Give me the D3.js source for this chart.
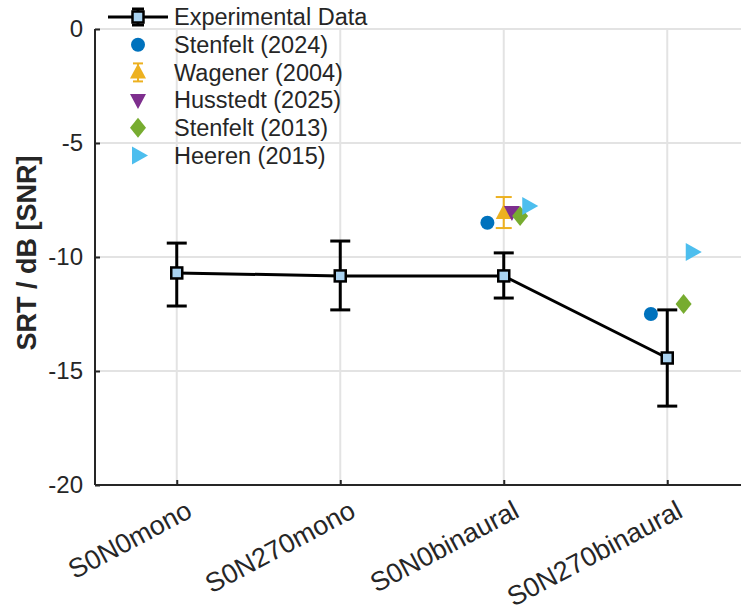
<!DOCTYPE html>
<html>
<head>
<meta charset="utf-8">
<script src="https://cdn.jsdelivr.net/npm/d3@7"></script>
<style>
  body { margin: 0; background: white; }
  text { font-family: "Liberation Sans", Arial, Helvetica, sans-serif; }
</style>
</head>
<body>
<div id="chart"></div>
<script>
// Data
const categories = ["S0N0mono", "S0N270mono", "S0N0binaural", "S0N270binaural"];
const yTicks = [0, -5, -10, -15, -20];

// experimental data: mean and error bar ends
const expMean = [-10.70, -10.83, -10.83, -14.43];
const expLow = [-12.15, -12.32, -11.80, -16.54];
const expHigh = [-9.39, -9.30, -9.82, -12.32];

// literature values
const stenfelt2024 = [{cat: "S0N0binaural", v: -8.50}, {cat: "S0N270binaural", v: -12.50}];
const wagener2004 = [{cat: "S0N0binaural", v: -8.07, lo: -8.73, hi: -7.37}];
const husstedt2025 = [{cat: "S0N0binaural", v: -8.03}];
const stenfelt2013 = [{cat: "S0N0binaural", v: -8.20}, {cat: "S0N270binaural", v: -12.06}];
const heeren2015 = [{cat: "S0N0binaural", v: -7.76}, {cat: "S0N270binaural", v: -9.78}];

const legendLabels = ["Experimental Data", "Stenfelt (2024)", "Wagener (2004)", "Husstedt (2025)", "Stenfelt (2013)", "Heeren (2015)"];

const width = 741, height = 611;
const margin = {top: 29, bottom: 126, left: 95, right: -8};

const svg = d3.select('#chart')
  .append('svg')
  .attr('width', width)
  .attr('height', height)
  .style('background', 'white');

// scales (categories at 1..4, limits 0.5..4.5)
const xScale = d3.scaleLinear()
  .domain([0.5, 4.5])
  .range([margin.left, width - margin.right]);

const yScale = d3.scaleLinear()
  .domain([-20, 0])
  .range([height - margin.bottom, margin.top]);

const xc = (cat, off) => xScale(categories.indexOf(cat) + 1 + (off || 0));

const axisColor = '#262626';

// grid
svg.append('g')
  .selectAll('line')
  .data(yTicks)
  .join('line')
  .attr('x1', margin.left).attr('x2', width)
  .attr('y1', d => yScale(d)).attr('y2', d => yScale(d))
  .attr('stroke', '#e3e3e3').attr('stroke-width', 2);

svg.append('g')
  .selectAll('line')
  .data(categories)
  .join('line')
  .attr('x1', d => xc(d)).attr('x2', d => xc(d))
  .attr('y1', yScale(0)).attr('y2', yScale(-20))
  .attr('stroke', '#e3e3e3').attr('stroke-width', 2);

// axes
const yaxis = svg.append('g')
  .attr('transform', `translate(${margin.left},0)`)
  .call(d3.axisLeft(yScale).tickValues(yTicks).tickSize(-5).tickPadding(12).tickFormat(d => String(d)));

const xaxis = svg.append('g')
  .attr('transform', `translate(0,${yScale(-20)})`)
  .call(d3.axisBottom(xScale).tickValues([1, 2, 3, 4]).tickSize(-5).tickFormat(''));

[yaxis, xaxis].forEach(ax => {
  ax.select('.domain').attr('stroke', axisColor).attr('stroke-width', 2);
  ax.selectAll('.tick line').attr('stroke', axisColor).attr('stroke-width', 2);
  ax.selectAll('.tick text').attr('fill', axisColor).style('font-size', '24px')
    .style('font-family', '"Liberation Sans", Arial, sans-serif');
});
yaxis.select('.domain').attr('d', `M0,${yScale(0)}V${yScale(-20)}`);
xaxis.select('.domain').attr('d', `M${margin.left},0H${width}`);

// rotated x tick labels
svg.append('g')
  .selectAll('text')
  .data(categories)
  .join('text')
  .attr('transform', d => `translate(${xc(d) + 8},${yScale(-20) + 14}) rotate(-28)`)
  .attr('text-anchor', 'end')
  .attr('dy', '0.72em')
  .attr('fill', axisColor)
  .style('font-size', '27px')
  .text(d => d);

// y label
svg.append('text')
  .attr('transform', `translate(36,${(yScale(0) + yScale(-20)) / 2 - 4}) rotate(-90)`)
  .attr('text-anchor', 'middle')
  .attr('fill', axisColor)
  .style('font-size', '27px')
  .style('font-weight', 'bold')
  .text('SRT / dB [SNR]');

// experimental line
const line = d3.line().x((d, i) => xScale(i + 1)).y(d => yScale(d));
svg.append('path')
  .datum(expMean)
  .attr('d', line)
  .attr('fill', 'none')
  .attr('stroke', 'black')
  .attr('stroke-width', 3);

// error bars
const capW = 10;
expMean.forEach((m, i) => {
  const x = xScale(i + 1);
  const g = svg.append('g').attr('stroke', 'black').attr('stroke-width', 3);
  g.append('line').attr('x1', x).attr('x2', x).attr('y1', yScale(expLow[i])).attr('y2', yScale(expHigh[i]));
  g.append('line').attr('x1', x - capW).attr('x2', x + capW).attr('y1', yScale(expLow[i])).attr('y2', yScale(expLow[i]));
  g.append('line').attr('x1', x - capW).attr('x2', x + capW).attr('y1', yScale(expHigh[i])).attr('y2', yScale(expHigh[i]));
});

// marker shapes
const sqMarker = (g, x, y) => g.append('rect')
  .attr('x', x - 5.5).attr('y', y - 5.5).attr('width', 11).attr('height', 11)
  .attr('fill', '#a9d2f0').attr('stroke', 'black').attr('stroke-width', 2.5);
const circleMarker = (g, x, y) => g.append('circle')
  .attr('cx', x).attr('cy', y).attr('r', 7).attr('fill', '#0072BD');
const triUp = (g, x, y) => g.append('path')
  .attr('d', `M${x},${y - 9}L${x + 8},${y + 6}L${x - 8},${y + 6}Z`).attr('fill', '#EDB120');
const triDown = (g, x, y) => g.append('path')
  .attr('d', `M${x - 8},${y - 6}L${x + 8},${y - 6}L${x},${y + 9}Z`).attr('fill', '#7E2F8E');
const diamond = (g, x, y) => g.append('path')
  .attr('d', `M${x},${y - 10}L${x + 8},${y}L${x},${y + 10}L${x - 8},${y}Z`).attr('fill', '#77AC30');
const triRight = (g, x, y) => g.append('path')
  .attr('d', `M${x - 6},${y - 9}L${x + 10},${y}L${x - 6},${y + 9}Z`).attr('fill', '#4DBEEE');

expMean.forEach((m, i) => sqMarker(svg, xScale(i + 1), yScale(m)));

// literature points
const pts = svg.append('g');
stenfelt2024.forEach(d => circleMarker(pts, xc(d.cat, -0.1), yScale(d.v)));
wagener2004.forEach(d => {
  const x = xc(d.cat, 0);
  const g = pts.append('g').attr('stroke', '#EDB120').attr('stroke-width', 2);
  g.append('line').attr('x1', x).attr('x2', x).attr('y1', yScale(d.lo)).attr('y2', yScale(d.hi));
  g.append('line').attr('x1', x - 8).attr('x2', x + 8).attr('y1', yScale(d.lo)).attr('y2', yScale(d.lo));
  g.append('line').attr('x1', x - 8).attr('x2', x + 8).attr('y1', yScale(d.hi)).attr('y2', yScale(d.hi));
  triUp(pts, x, yScale(d.v));
});
husstedt2025.forEach(d => triDown(pts, xc(d.cat, 0.05), yScale(d.v)));
stenfelt2013.forEach(d => diamond(pts, xc(d.cat, 0.1), yScale(d.v)));
heeren2015.forEach(d => triRight(pts, xc(d.cat, 0.15), yScale(d.v)));

// legend
const lg = svg.append('g');
const lx = 138, ly0 = 17, dy = 27.7;
legendLabels.forEach((lab, i) => {
  lg.append('text').attr('x', 174).attr('y', ly0 + i * dy).attr('dy', '0.35em')
    .attr('fill', axisColor).style('font-size', '23.5px').text(lab);
});
// experimental legend entry
lg.append('line').attr('x1', 108).attr('x2', 168).attr('y1', ly0).attr('y2', ly0)
  .attr('stroke', 'black').attr('stroke-width', 3);
lg.append('line').attr('x1', lx).attr('x2', lx).attr('y1', ly0 - 8).attr('y2', ly0 + 8)
  .attr('stroke', 'black').attr('stroke-width', 3);
[ly0 - 8, ly0 + 8].forEach(y => lg.append('line').attr('x1', lx - 6).attr('x2', lx + 6)
  .attr('y1', y).attr('y2', y).attr('stroke', 'black').attr('stroke-width', 3));
sqMarker(lg, lx, ly0);
circleMarker(lg, lx, ly0 + dy);
{
  const y = ly0 + 2 * dy;
  const g = lg.append('g').attr('stroke', '#EDB120').attr('stroke-width', 2);
  g.append('line').attr('x1', lx).attr('x2', lx).attr('y1', y - 9).attr('y2', y + 9);
  g.append('line').attr('x1', lx - 5).attr('x2', lx + 5).attr('y1', y - 9).attr('y2', y - 9);
  g.append('line').attr('x1', lx - 5).attr('x2', lx + 5).attr('y1', y + 9).attr('y2', y + 9);
  triUp(lg, lx, y);
}
triDown(lg, lx, ly0 + 3 * dy);
diamond(lg, lx, ly0 + 4 * dy);
triRight(lg, lx, ly0 + 5 * dy);
</script>
</body>
</html>
